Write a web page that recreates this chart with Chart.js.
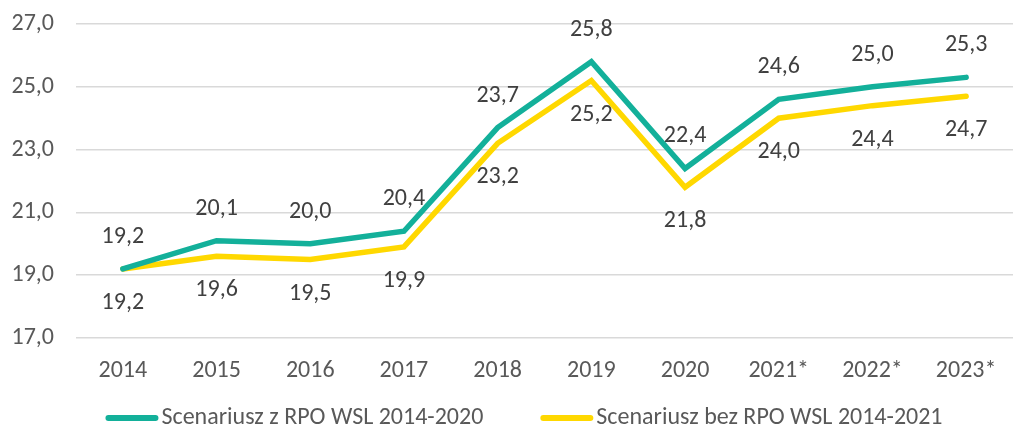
<!DOCTYPE html>
<html>
<head>
<meta charset="utf-8">
<script src="https://cdn.jsdelivr.net/npm/chart.js@4/dist/chart.umd.min.js"></script>
<style>
  html, body { margin: 0; padding: 0; background: #fff; }
  #wrap { width: 1013px; height: 430px; }
</style>
</head>
<body>
<div id="wrap"><canvas id="chartScenariusze"></canvas></div>
<script>
// dane
var lata = ['2014', '2015', '2016', '2017', '2018', '2019', '2020', '2021*', '2022*', '2023*'];
var zRpo = [19.2, 20.1, 20.0, 20.4, 23.7, 25.8, 22.4, 24.6, 25.0, 25.3];
var bezRpo = [19.2, 19.6, 19.5, 19.9, 23.2, 25.2, 21.8, 24.0, 24.4, 24.7];
var etykietyOsiY = [17, 19, 21, 23, 25, 27];

var FONT = "'Carlito', 'Calibri', 'Open Sans', sans-serif";
var ROZMIAR = 24;
var ZIELONY = '#13b09a';
var ZOLTY = '#ffd800';

function formatPl(v) {
    return v.toFixed(1).replace('.', ',');
}

// etykiety wartosci: seria 0 nad punktem, seria 1 pod punktem
var etykietyPlugin = {
    id: 'etykiety',
    afterDatasetsDraw: function(chart) {
        var ctx = chart.ctx;
        ctx.save();
        ctx.font = ROZMIAR + 'px ' + FONT;
        ctx.fillStyle = '#404040';
        ctx.textAlign = 'center';
        ctx.textBaseline = 'middle';
        chart.data.datasets.forEach(function(ds, i) {
            var meta = chart.getDatasetMeta(i);
            meta.data.forEach(function(pt, j) {
                var dy = i === 0 ? -32 : 34;
                ctx.fillText(formatPl(ds.data[j]), pt.x, pt.y + dy);
            });
        });
        ctx.restore();
    }
};

// legenda rysowana recznie (odstepy jak w Excelu)
var legendaPlugin = {
    id: 'legenda',
    afterDraw: function(chart) {
        var ctx = chart.ctx;
        ctx.save();
        ctx.font = ROZMIAR + 'px ' + FONT;
        var linia = 53, odstep = 3, przerwa = 57;
        var szer = chart.data.datasets.map(function(ds) { return ctx.measureText(ds.label).width; });
        var razem = szer.reduce(function(a, b) { return a + b; }, 0) + 2 * (linia + odstep) + przerwa;
        var x = 524 - razem / 2;
        var y = 418;
        chart.data.datasets.forEach(function(ds, i) {
            ctx.strokeStyle = ds.borderColor;
            ctx.lineWidth = 6;
            ctx.lineCap = 'round';
            ctx.beginPath();
            ctx.moveTo(x + 3, y);
            ctx.lineTo(x + linia - 3, y);
            ctx.stroke();
            ctx.fillStyle = '#595959';
            ctx.textAlign = 'left';
            ctx.textBaseline = 'middle';
            ctx.fillText(ds.label, x + linia + odstep, y);
            x += linia + odstep + szer[i] + przerwa;
        });
        ctx.restore();
    }
};

new Chart(document.getElementById('chartScenariusze'), {
    type: 'line',
    data: {
        labels: lata,
        datasets: [{
            label: 'Scenariusz z RPO WSL 2014-2020',
            data: zRpo,
            borderColor: ZIELONY,
            backgroundColor: ZIELONY,
            borderWidth: 5.5,
            borderJoinStyle: 'miter',
            borderCapStyle: 'round',
            pointRadius: 0,
            tension: 0
        }, {
            label: 'Scenariusz bez RPO WSL 2014-2021',
            data: bezRpo,
            borderColor: ZOLTY,
            backgroundColor: ZOLTY,
            borderWidth: 5.5,
            borderJoinStyle: 'miter',
            borderCapStyle: 'round',
            pointRadius: 0,
            tension: 0
        }]
    },
    options: {
        responsive: true,
        maintainAspectRatio: false,
        animation: false,
        layout: { padding: { top: 24, right: 0, left: 0, bottom: 0 } },
        plugins: {
            legend: { display: false },
            tooltip: { enabled: false }
        },
        scales: {
            x: {
                offset: true,
                grid: { display: false },
                border: { display: false },
                ticks: {
                    color: '#595959',
                    font: { family: FONT, size: ROZMIAR },
                    padding: 11,
                    maxRotation: 0
                },
                afterFit: function(s) { s.height = 92; }
            },
            y: {
                min: 17,
                max: 27,
                afterBuildTicks: function(s) {
                    s.ticks = etykietyOsiY.map(function(v) { return { value: v }; });
                },
                grid: { color: '#d9d9d9', lineWidth: 1.5, drawTicks: false },
                border: { display: false },
                ticks: {
                    color: '#595959',
                    font: { family: FONT, size: ROZMIAR },
                    padding: 22,
                    callback: function(v) { return formatPl(v); }
                },
                afterFit: function(s) {
                    s.width = 76;
                    s.paddingTop = 0;
                    s.paddingBottom = 0;
                }
            }
        }
    },
    plugins: [etykietyPlugin, legendaPlugin]
});
</script>
</body>
</html>
